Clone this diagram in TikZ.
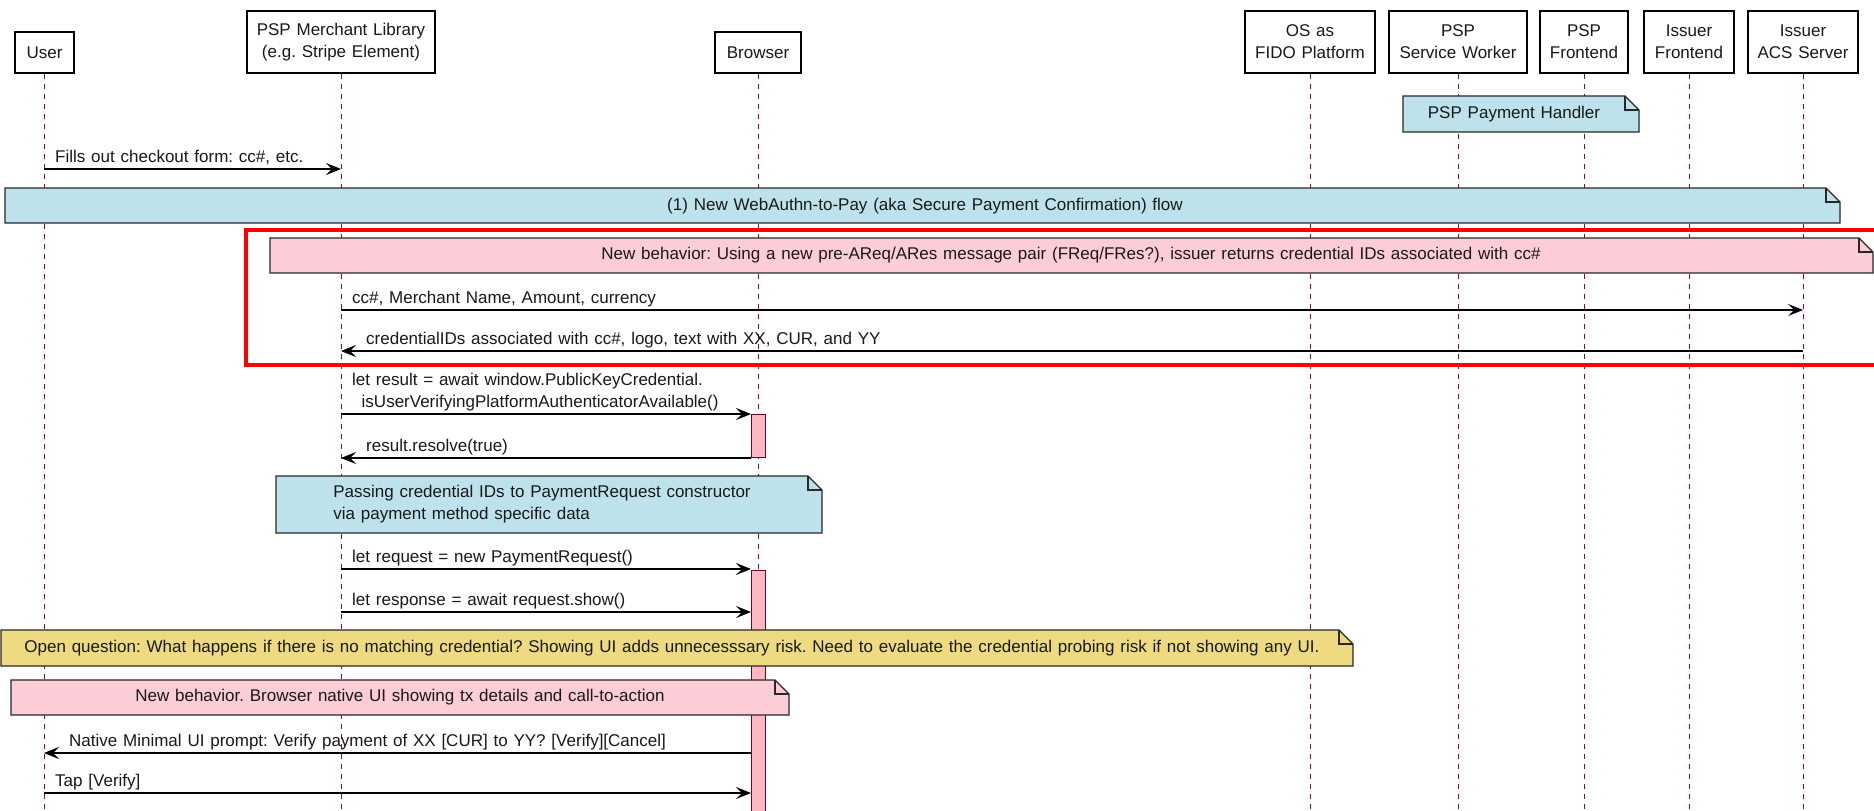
\documentclass[tikz,border=0pt]{standalone}
\usepackage{fontspec}
\setmainfont{Liberation Sans}
\usetikzlibrary{arrows.meta}
\definecolor{lifeln}{HTML}{A80036}
\definecolor{noteblue}{RGB}{190,226,236}
\definecolor{notepink}{RGB}{252,205,214}
\definecolor{noteyellow}{RGB}{238,218,128}
\definecolor{actpink}{RGB}{255,184,194}
\definecolor{edgegray}{RGB}{40,40,40}
\definecolor{txt}{RGB}{25,25,25}
\frenchspacing
\newcommand{\dgfont}{\fontsize{17}{22}\selectfont\spaceskip=5.8pt\relax}
\tikzset{
  part/.style={draw=black, line width=1.2pt, fill=white, inner sep=0pt, align=center,
    font=\dgfont, text=txt},
  life/.style={draw=lifeln, line width=1pt, dash pattern=on 5pt off 5pt},
  msg/.style={draw=black, line width=1.1pt, -{Stealth[length=15pt,width=12pt,inset=6pt]}},
  lbl/.style={font=\dgfont, inner sep=0pt, anchor=base west, text=txt},
  notetext/.style={font=\dgfont, inner sep=0pt, text=txt},
  notebody/.style={draw=edgegray, line width=1.1pt},
  actbar/.style={draw=lifeln!70!black, fill=actpink, line width=1pt},
  redframe/.style={draw=red, line width=4pt},
}
\newcommand{\sqnote}[5]{%
  \filldraw[notebody, fill=#5] (#1,#2) -- (#3-14,#2) -- (#3,#2+14) -- (#3,#4) -- (#1,#4) -- cycle;
  \draw[notebody] (#3-14,#2) -- (#3-14,#2+14) -- (#3,#2+14);
}
\begin{document}
\begin{tikzpicture}[x=1pt,y=-1pt]
\useasboundingbox (0,0) rectangle (1874,811);
\fill[white] (0,0) rectangle (1874,811);
\coordinate (bot) at (0,811);

% participants
\node[part, minimum width=59pt, minimum height=41pt] (user) at (44.5,52.5) {User};
\node[part, minimum width=188pt, minimum height=62pt] (ml) at (341,42) {PSP Merchant Library\\(e.g. Stripe Element)};
\node[part, minimum width=86pt, minimum height=41pt] (br) at (758,52.5) {Browser};
\node[part, minimum width=130pt, minimum height=62pt] (os) at (1310,42) {OS as\\FIDO Platform};
\node[part, minimum width=138pt, minimum height=62pt] (psw) at (1458,42) {PSP\\Service Worker};
\node[part, minimum width=88pt, minimum height=62pt] (pf) at (1584,42) {PSP\\Frontend};
\node[part, minimum width=90pt, minimum height=62pt] (isf) at (1689,42) {Issuer\\Frontend};
\node[part, minimum width=110pt, minimum height=62pt] (acs) at (1803,42) {Issuer\\ACS Server};

% lifelines
\foreach \p in {user,ml,br,os,psw,pf,isf,acs}
  \draw[life] (\p.south) -- (\p.south |- bot);

% PSP Payment Handler note
\sqnote{1403}{96}{1639}{132}{noteblue}
\node[notetext] (pph) at (1514,114) {PSP Payment Handler};

% message 1
\coordinate (m1a) at (44,169); \coordinate (m1b) at (341,169);
\draw[msg] (m1a) -- (m1b);
\node[lbl] (t1) at (55,162) {Fills out checkout form: cc\#, etc.};

% blue band
\sqnote{5}{188}{1840}{223}{noteblue}
\node[notetext] (band) at (925,206) {(1) New WebAuthn-to-Pay (aka Secure Payment Confirmation) flow};

% pink note 1
\sqnote{270}{238}{1873}{273}{notepink}
\node[notetext] (nb1) at (1071,255.5) {New behavior: Using a new pre-AReq/ARes message pair (FReq/FRes?), issuer returns credential IDs associated with cc\#};

% messages 2 & 3
\coordinate (m2a) at (341,310); \coordinate (m2b) at (1803,310);
\draw[msg] (m2a) -- (m2b);
\node[lbl] (t2) at (352,303) {cc\#, Merchant Name, Amount, currency};
\coordinate (m3a) at (1803,351); \coordinate (m3b) at (341,351);
\draw[msg] (m3a) -- (m3b);
\node[lbl] (t3) at (366,344) {credentialIDs associated with cc\#, logo, text with XX, CUR, and YY};

% red frame
\draw[redframe] (246,230) rectangle (1890,365);

% activation bars
\node[actbar, minimum width=14pt, minimum height=43pt, inner sep=0pt] (act1) at (758,435.5) {};
\draw[actbar] (751,570) rectangle (765,815);
\coordinate (act2w) at (751,570);

% message 4
\coordinate (m4a) at (341,414); \coordinate (m4b) at (751,414);
\draw[msg] (m4a) -- (m4b);
\node[lbl] (t4a) at (352,385) {let result = await window.PublicKeyCredential.};
\node[lbl] (t4b) at (352,407) {\hspace*{9.5pt}isUserVerifyingPlatformAuthenticatorAvailable()};

% message 5
\coordinate (m5a) at (751,458); \coordinate (m5b) at (341,458);
\draw[msg] (m5a) -- (m5b);
\node[lbl] (t5) at (366,451) {result.resolve(true)};

% passing note
\sqnote{276}{476}{822}{533}{noteblue}
\node[notetext, align=left] (pass) at (542,504.5) {Passing credential IDs to PaymentRequest constructor\\via payment method specific data};

% messages 6 & 7
\coordinate (m6a) at (341,569); \coordinate (m6b) at (751,569);
\draw[msg] (m6a) -- (m6b);
\node[lbl] (t6) at (352,562) {let request = new PaymentRequest()};
\coordinate (m7a) at (341,612); \coordinate (m7b) at (751,612);
\draw[msg] (m7a) -- (m7b);
\node[lbl] (t7) at (352,605) {let response = await request.show()};

% yellow note
\sqnote{1}{630}{1353}{666}{noteyellow}
\node[notetext] (oq) at (672,648) {Open question: What happens if there is no matching credential? Showing UI adds unnecesssary risk. Need to evaluate the credential probing risk if not showing any UI.};

% pink note 2
\sqnote{11}{680}{789}{715}{notepink}
\node[notetext] (nb2) at (400,697.5) {New behavior. Browser native UI showing tx details and call-to-action};

% messages 8 & 9
\coordinate (m8a) at (751,753); \coordinate (m8b) at (44,753);
\draw[msg] (m8a) -- (m8b);
\node[lbl] (t8) at (69,746) {Native Minimal UI prompt: Verify payment of XX [CUR] to YY? [Verify][Cancel]};
\coordinate (m9a) at (44,793); \coordinate (m9b) at (751,793);
\draw[msg] (m9a) -- (m9b);
\node[lbl] (t9) at (55,786) {Tap [Verify]};
\end{tikzpicture}
\end{document}
